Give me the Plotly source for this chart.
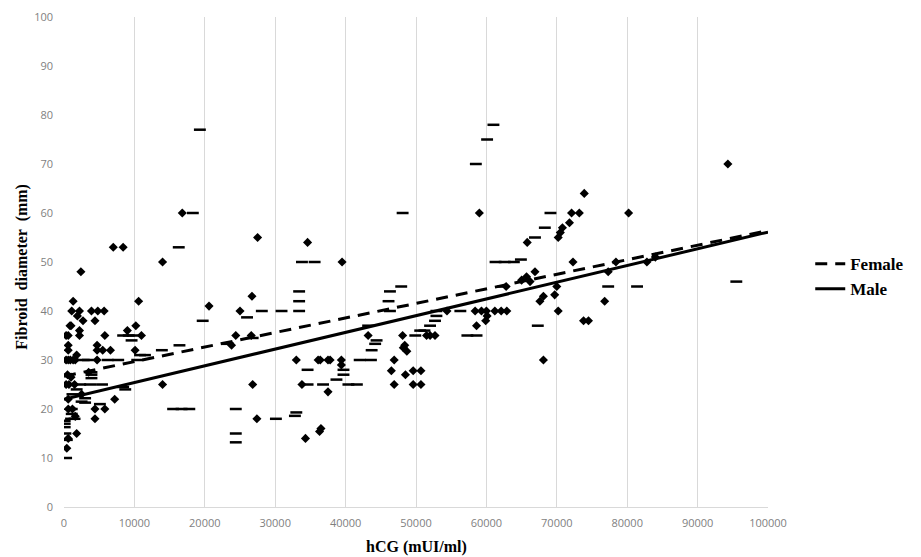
import plotly.graph_objects as go

# Diamond-marker points (hCG in mUI/ml, fibroid diameter in mm)
male_hcg = [7000, 8400, 2400, 14000, 1300, 10600, 1100, 2200, 3900, 4800, 5700, 1900, 2700, 4400,
            850, 9000, 10200, 600, 2200, 2200, 5800, 11000, 600, 600, 4700, 4700, 5500, 6600, 10100,
            300, 600, 900, 1300, 1600, 4700, 500, 700, 300, 14000, 600, 7200, 600, 1200, 4400, 5800,
            4400, 1800, 400, 600, 1600, 1000, 1800, 300, 1500, 2500, 3500, 1000,
            16800, 27500, 34600, 20600, 26700, 25000, 24400, 23800, 26600, 33000, 36100, 37500,
            26800, 33800, 37500, 27400, 34300, 36300, 36500, 39500, 43200, 36400, 37800, 39400,
            39400, 48100, 51500, 52700, 52000, 48200, 48400, 48700, 46900, 46500, 48500, 49600,
            50700, 46900, 49600, 50700, 54400, 58400, 59300, 60000, 61200, 62100, 62900, 58600,
            59900, 60100, 59000, 73900, 72100, 73200, 80200, 71800, 70800, 70500, 70200, 65800,
            72300, 66900, 65000, 65700, 66200, 70000, 69700, 68100, 67600, 70200, 73800, 74500,
            68100, 77300, 76800, 78400, 82800, 94300, 62800, 84000]
male_diam = [53, 53, 48, 50, 42, 42, 40, 40, 40, 40, 40, 39, 38, 38,
             37, 36, 37, 35, 36, 35, 35, 35, 33, 32, 33, 32, 32, 32, 32,
             30, 30, 30, 30, 30, 30, 27, 25, 25, 25, 22, 22, 20, 20, 20, 20,
             18, 15, 12, 14, 18.5, 37, 31, 35, 25, 23, 27.5, 26.5,
             60, 55, 54, 41, 43, 40, 35, 33, 35, 30, 30, 30,
             25, 25, 23.5, 18, 14, 15.4, 16, 50, 35, 30, 30, 30,
             29, 35, 35, 35, 35, 32.5, 33, 31.8, 30, 27.8, 27, 27.8,
             27.8, 25, 25, 25, 40, 40, 40, 40, 40, 40, 40, 37,
             38, 39, 60, 64, 60, 60, 60, 58, 57, 56, 55, 54,
             50, 48, 46.3, 47, 46, 45, 43.3, 43, 42, 40, 38, 38,
             30, 48, 42, 50, 50, 70, 45, 51]

# Dash-marker points
female_hcg = [19300, 18300, 16300, 8400, 9800, 9600, 3400, 6200, 7700, 10400, 11500, 13900, 16400,
              600, 3900, 3900, 3900, 500, 2300, 5400, 3700, 8400, 8700, 1800, 3000, 3000, 5100,
              2500, 1100, 1100, 1000, 100, 100, 200, 400, 300, 100, 1500, 9200, 10800, 2800, 1200,
              33800, 35600, 33400, 33400, 33400, 26000, 28100, 30900, 19700, 23300, 26800, 34600,
              36800, 15500, 16700, 17800, 24400, 30100, 33000, 32800, 24400, 24400, 47900, 46300,
              46100, 46300, 43200, 44400, 44200, 43700, 42000, 43600, 39700, 39700, 38700, 40400,
              41600, 34600, 49900, 51200, 50600, 52000, 52700, 52900, 52900, 56300, 57300, 58600,
              48100, 61000, 60100, 58500, 69100, 68300, 66900, 61300, 62600, 63900, 64900, 62400,
              67300, 77300, 81400, 95500]
female_diam = [77, 60, 53, 35, 35, 34, 30, 30, 30, 30, 31, 32, 33,
               27, 27.5, 27, 26.3, 25, 25, 25, 25, 24.5, 24, 24, 22.2, 21.3, 21,
               21.5, 20, 19, 18, 17.6, 16.3, 15, 13.7, 10, 17, 18, 35, 31, 30, 23,
               50, 50, 44, 42, 40, 38.7, 40, 40, 38, 33.3, 34.5, 28,
               25, 20, 20, 20, 20, 18, 19.3, 18.6, 15, 13.2, 45, 44,
               42, 40, 37, 34, 33.3, 32, 30, 30, 28, 27, 26, 25,
               25, 25, 35, 36, 36, 37, 38, 39, 40, 40, 35, 35,
               60, 78, 75, 70, 60, 57, 55, 50, 50, 50, 50.5, 45,
               37, 45, 45, 46]

# Linear trend lines (end points)
trend_hcg = [0, 100000]
female_trend = [26.7, 56.4]
male_trend = [22.0, 56.1]

x_ticks = list(range(0, 100001, 10000))
y_ticks = list(range(0, 101, 10))

fig = go.Figure()
fig.add_trace(go.Scatter(
    x=male_hcg, y=male_diam, mode="markers", showlegend=False,
    marker=dict(symbol="diamond", size=7, color="black"), hoverinfo="x+y"))
fig.add_trace(go.Scatter(
    x=female_hcg, y=female_diam, mode="markers", showlegend=False,
    marker=dict(symbol="line-ew", size=8.5, color="black",
                line=dict(width=2.5, color="black")), hoverinfo="x+y"))
fig.add_trace(go.Scatter(
    x=trend_hcg, y=female_trend, mode="lines", name="Female",
    line=dict(color="black", width=3, dash="12px,8px")))
fig.add_trace(go.Scatter(
    x=trend_hcg, y=male_trend, mode="lines", name="Male",
    line=dict(color="black", width=3)))

tick_font = dict(family="Open Sans, Liberation Sans, sans-serif", size=11, color="#7f7f7f")
serif = "Liberation Serif, Times New Roman, serif"

# The page body has an 8px default margin, so the figure is sized to fit the window.
fig.update_layout(
    width=913, height=549,
    margin=dict(l=56, r=153, t=9, b=50, autoexpand=False),
    paper_bgcolor="white", plot_bgcolor="white",
    showlegend=True,
    legend=dict(x=1.06, y=0.47, xanchor="left", yanchor="middle",
                font=dict(family=serif, size=17, color="black", weight="bold"),
                bgcolor="rgba(0,0,0,0)", tracegroupgap=4),
    annotations=[
        dict(text="<b>hCG (mUI/ml)</b>", xref="paper", yref="paper", x=0.5, y=-0.082,
             xanchor="center", yanchor="middle", showarrow=False,
             font=dict(family=serif, size=16, color="black")),
        dict(text="<b>Fibroid  diameter  (mm)</b>", xref="paper", yref="paper", x=-0.06, y=0.49,
             xanchor="center", yanchor="middle", textangle=-90, showarrow=False,
             font=dict(family=serif, size=16, color="black")),
    ],
)
fig.update_xaxes(
    range=[0, 100000], tickvals=x_ticks, ticktext=[str(v) for v in x_ticks],
    showgrid=True, gridcolor="#d9d9d9", gridwidth=1,
    showline=True, linecolor="#d9d9d9", linewidth=1, automargin=False,
    zeroline=False, ticks="", tickfont=tick_font, ticklabelstandoff=6,
)
fig.update_yaxes(
    range=[0, 100], tickvals=y_ticks, automargin=False,
    showgrid=False, showline=False, zeroline=False, ticks="",
    tickfont=tick_font, ticklabelstandoff=10,
)

fig.write_html("out.html")
